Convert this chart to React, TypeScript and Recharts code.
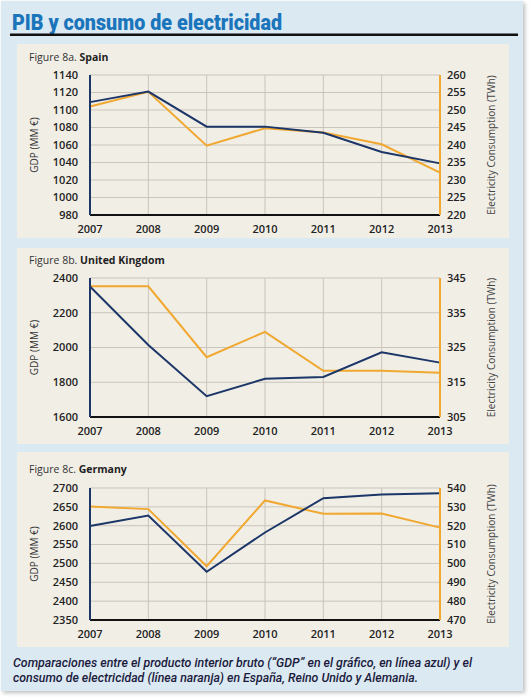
import React from "react"
import { LineChart, Line, XAxis, YAxis, CartesianGrid } from "recharts"

const years = ["2007", "2008", "2009", "2010", "2011", "2012", "2013"]

const spainGdp = [1109, 1121, 1081, 1081, 1074, 1052, 1039]
const spainElec = [251, 255.2, 239.8, 244.8, 243.6, 240.2, 232.1]
const spainGdpTicks = [980, 1000, 1020, 1040, 1060, 1080, 1100, 1120, 1140]
const spainElecTicks = [220, 225, 230, 235, 240, 245, 250, 255, 260]

const ukGdp = [2351, 2014, 1720, 1820, 1830, 1972, 1913]
const ukElec = [342.6, 342.6, 322.2, 329.5, 318.3, 318.3, 317.7]
const ukGdpTicks = [1600, 1800, 2000, 2200, 2400]
const ukElecTicks = [305, 315, 325, 335, 345]

const deGdp = [2599, 2627, 2478, 2582, 2673, 2683, 2686]
const deElec = [530.2, 528.8, 498.5, 533.4, 526.3, 526.5, 519]
const deGdpTicks = [2350, 2400, 2450, 2500, 2550, 2600, 2650, 2700]
const deElecTicks = [470, 480, 490, 500, 510, 520, 530, 540]

const BLUE = "#1c3668"
const ORANGE = "#f0a830"
const GRID = "#c9c5bb"
const PANEL_W = 492

const tickStyle = { fill: "#222", fontSize: 11, fontWeight: 600, fontFamily: "'Open Sans', sans-serif" }

type PanelProps = {
  top: number
  height: number
  plotTop: number
  plotH: number
  titleY: number
  prefix: string
  country: string
  gdp: number[]
  elec: number[]
  gdpTicks: number[]
  elecTicks: number[]
}

function Panel({ top, height, plotTop, plotH, titleY, prefix, country, gdp, elec, gdpTicks, elecTicks }: PanelProps) {
  const data = years.map((y, i) => ({ year: y, gdp: gdp[i], elec: elec[i] }))
  const midY = plotTop + plotH / 2
  return (
    <div style={{ position: "absolute", left: 17, top, width: PANEL_W, height, background: "#f1eee6" }}>
      <LineChart
        width={PANEL_W}
        height={height}
        data={data}
        margin={{ top: plotTop, right: 0, left: 0, bottom: 0 }}
      >
        <CartesianGrid yAxisId="left" stroke={GRID} strokeWidth={1} />
        <XAxis
          dataKey="year"
          interval={0}
          height={height - plotTop - plotH}
          tickLine={false}
          tickSize={0}
          tickMargin={10}
          axisLine={{ stroke: "#111", strokeWidth: 2 }}
          tick={tickStyle}
        />
        <YAxis
          yAxisId="left"
          domain={[gdpTicks[0], gdpTicks[gdpTicks.length - 1]]}
          ticks={gdpTicks}
          interval={0}
          width={73}
          tickLine={false}
          tickSize={0}
          tickMargin={12}
          axisLine={{ stroke: BLUE, strokeWidth: 2 }}
          tick={tickStyle}
        />
        <YAxis
          yAxisId="right"
          orientation="right"
          domain={[elecTicks[0], elecTicks[elecTicks.length - 1]]}
          ticks={elecTicks}
          interval={0}
          width={69}
          tickLine={false}
          tickSize={0}
          tickMargin={7}
          axisLine={{ stroke: ORANGE, strokeWidth: 2 }}
          tick={tickStyle}
        />
        <Line yAxisId="right" dataKey="elec" stroke={ORANGE} strokeWidth={2} dot={false} isAnimationActive={false} />
        <Line yAxisId="left" dataKey="gdp" stroke={BLUE} strokeWidth={2} dot={false} isAnimationActive={false} />
      </LineChart>
      <svg
        width={PANEL_W}
        height={height}
        style={{ position: "absolute", left: 0, top: 0, pointerEvents: "none" }}
        fontFamily="'Open Sans', sans-serif"
      >
        <text x={12} y={titleY + 4} fontSize={10.5} fill="#333">
          {prefix} <tspan fontWeight={700} fill="#222">{country}</tspan>
        </text>
        <text
          x={17}
          y={midY}
          fontSize={10}
          fill="#333"
          textAnchor="middle"
          dominantBaseline="central"
          transform={`rotate(-90 17 ${midY})`}
        >
          GDP (MM €)
        </text>
        <text
          x={474}
          y={midY}
          fontSize={10}
          fill="#444"
          textAnchor="middle"
          dominantBaseline="central"
          transform={`rotate(-90 474 ${midY})`}
        >
          Electricity Consumption (TWh)
        </text>
      </svg>
    </div>
  )
}

export default function App() {
  return (
    <div style={{ position: "absolute", left: 0, top: 0, width: 529, height: 699, background: "#fff", overflow: "hidden" }}>
      <div
        style={{
          position: "absolute",
          left: 1,
          top: 1,
          width: 522,
          height: 690,
          background: "#dbe9f2",
          boxShadow: "2px 2px 4px rgba(0,0,0,0.25)",
        }}
      />
      <svg width={529} height={44} style={{ position: "absolute", left: 0, top: 0 }}>
        <text
          x={12}
          y={30}
          fontSize={22}
          fontWeight={900}
          fill="#1b75bb"
          fontFamily="'Roboto', sans-serif"
          textLength={270}
          lengthAdjust="spacingAndGlyphs"
        >
          PIB y consumo de electricidad
        </text>
        <rect x={10} y={33.5} width={508} height={2.5} fill="#111" />
      </svg>
      <Panel
        top={44}
        height={194}
        plotTop={31}
        plotH={140}
        titleY={13}
        prefix="Figure 8a."
        country="Spain"
        gdp={spainGdp}
        elec={spainElec}
        gdpTicks={spainGdpTicks}
        elecTicks={spainElecTicks}
      />
      <Panel
        top={248}
        height={196}
        plotTop={30}
        plotH={139}
        titleY={12}
        prefix="Figure 8b."
        country="United Kingdom"
        gdp={ukGdp}
        elec={ukElec}
        gdpTicks={ukGdpTicks}
        elecTicks={ukElecTicks}
      />
      <Panel
        top={452}
        height={195}
        plotTop={36}
        plotH={132}
        titleY={17}
        prefix="Figure 8c."
        country="Germany"
        gdp={deGdp}
        elec={deElec}
        gdpTicks={deGdpTicks}
        elecTicks={deElecTicks}
      />
      <svg width={529} height={40} style={{ position: "absolute", left: 0, top: 650 }}>
        <g fontFamily="'Roboto', sans-serif" fontStyle="italic" fontWeight={500} fontSize={13} fill="#1a1a3c">
          <text x={13} y={17} textLength={459} lengthAdjust="spacingAndGlyphs">
            Comparaciones entre el producto interior bruto (“GDP” en el gráfico, en línea azul) y el
          </text>
          <text x={13} y={32} textLength={405} lengthAdjust="spacingAndGlyphs">
            consumo de electricidad (línea naranja) en España, Reino Unido y Alemania.
          </text>
        </g>
      </svg>
    </div>
  )
}
